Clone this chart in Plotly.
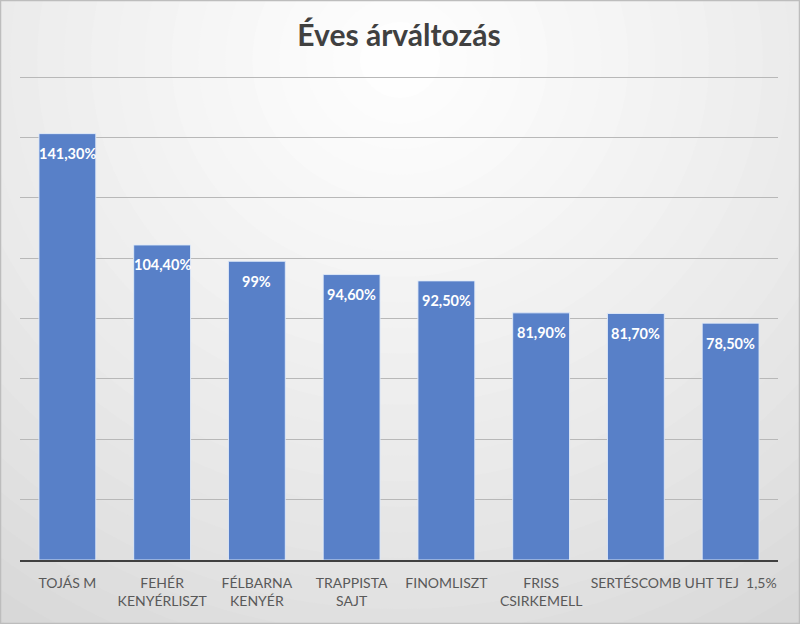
import plotly.graph_objects as go

categories = ["TOJÁS M", "FEHÉR<br>KENYÉRLISZT", "FÉLBARNA<br>KENYÉR", "TRAPPISTA<br>SAJT",
              "FINOMLISZT", "FRISS<br>CSIRKEMELL", "SERTÉSCOMB", "UHT TEJ  1,5%"]
values = [141.3, 104.4, 99.0, 94.6, 92.5, 81.9, 81.7, 78.5]
value_labels = ["141,30%", "104,40%", "99%", "94,60%", "92,50%", "81,90%", "81,70%", "78,50%"]

W, H = 800, 624
ML, MR, MT, MB = 20, 22, 76, 64
pw, ph = W - ML - MR, H - MT - MB

def px2paper(x, y):
    return (x - ML) / pw, (H - MB - y) / ph

shapes = []
# background radial gradient
x0, y0 = px2paper(0, H)
x1, y1 = px2paper(W, 0)
shapes.append(dict(type="rect", xref="paper", yref="paper", x0=x0, y0=y0, x1=x1, y1=y1,
                   fillcolor="#CCCCCC", line=dict(width=0), layer="below"))
N = 30
cx, cy = 400, 60
for i in range(N):
    t = i / (N - 1)
    rx = 820 * (1 - t) + 40 * t
    ry = rx * 0.95
    c = int(204 + (254 - 204) * (t ** 0.7))
    ax0, ay0 = px2paper(cx - rx, cy + ry)
    ax1, ay1 = px2paper(cx + rx, cy - ry)
    shapes.append(dict(type="circle", xref="paper", yref="paper", x0=ax0, y0=ay0, x1=ax1, y1=ay1,
                       fillcolor=f"rgb({c},{c},{c})", line=dict(width=0), layer="below"))
# outer border
shapes.append(dict(type="rect", xref="paper", yref="paper", x0=x0 + 0.5/pw, y0=y0 + 0.5/ph,
                   x1=x1 - 0.5/pw, y1=y1 - 0.5/ph, fillcolor="rgba(0,0,0,0)",
                   line=dict(color="#BDBDBD", width=1.5), layer="above"))

fig = go.Figure()
fig.add_trace(go.Bar(
    x=categories, y=values,
    marker=dict(color="#5880C8", line=dict(color="rgba(225,235,250,0.9)", width=1)),
    hoverinfo="skip",
))

annotations = []
for c, v, lab in zip(categories, values, value_labels):
    annotations.append(dict(x=c, y=v, xref="x", yref="y", text=lab, showarrow=False,
                            yshift=-20, font=dict(family="Lato", size=14.5, color="white", weight="bold")))

fig.update_layout(
    width=W, height=H,
    margin=dict(l=ML, r=MR, t=MT, b=MB),
    paper_bgcolor="#D6D6D6",
    plot_bgcolor="rgba(0,0,0,0)",
    title=dict(text="<b>Éves árváltozás</b>", x=0.5, xref="paper", xanchor="center",
               y=1 - 35 / H, yanchor="middle",
               font=dict(family="Lato", size=30, color="#404040")),
    bargap=0.40,
    showlegend=False,
    shapes=shapes,
    annotations=annotations,
    xaxis=dict(showgrid=False, showline=True, linecolor="#404040", linewidth=2.2,
               tickfont=dict(family="Lato", size=14, color="#595959"),
               ticks="", ticklabelstandoff=9, fixedrange=True),
    yaxis=dict(range=[0, 160.4], dtick=20, showgrid=True, gridcolor="#B8B8B8", gridwidth=1,
               showticklabels=False, zeroline=False, ticks="", fixedrange=True),
)

fig.write_html("out.html", config={"displayModeBar": False},
               post_script="document.body.style.margin='0';")
